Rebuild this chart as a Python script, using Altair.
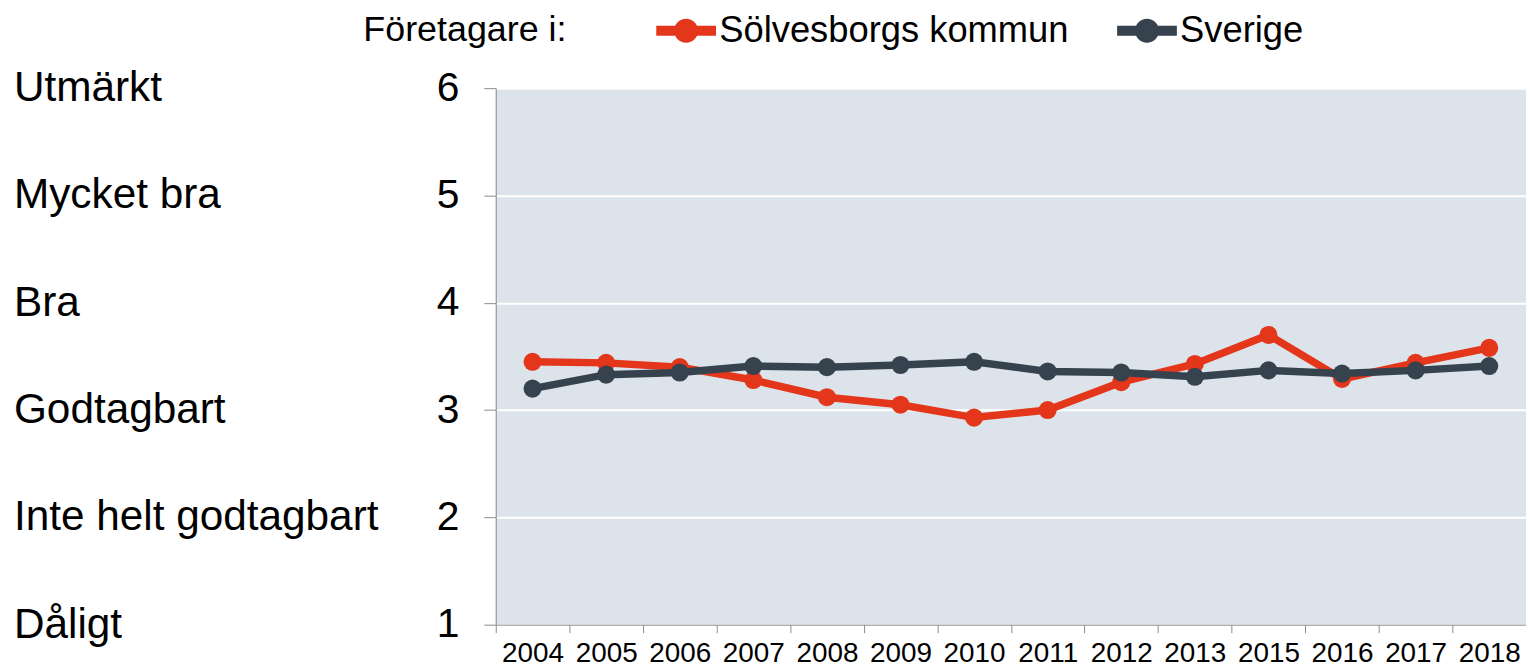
import altair as alt
import pandas as pd

years = ["2004", "2005", "2006", "2007", "2008", "2009", "2010", "2011",
         "2012", "2013", "2015", "2016", "2017", "2018"]
solvesborg = [3.45, 3.44, 3.40, 3.28, 3.12, 3.05, 2.93, 3.00, 3.26, 3.43, 3.70, 3.29, 3.44, 3.58]
sverige = [3.20, 3.33, 3.35, 3.41, 3.40, 3.42, 3.45, 3.36, 3.35, 3.31, 3.37, 3.34, 3.37, 3.41]
series_names = ["Sölvesborgs kommun", "Sverige"]
series_colors = ["#E4361B", "#36424E"]
level_values = [6, 5, 4, 3, 2, 1]
level_labels = ["Utmärkt", "Mycket bra", "Bra", "Godtagbart", "Inte helt godtagbart", "Dåligt"]

rows = []
for name, vals in zip(series_names, [solvesborg, sverige]):
    for y, v in zip(years, vals):
        rows.append({"year": y, "value": v, "serie": name})
df = pd.DataFrame(rows)
levels = pd.DataFrame({"value": level_values, "label": level_labels})

FONT = "Liberation Sans"
W, H = 1035, 539
step = W / len(years)

# symbol drawn 60px wide from a 30px legend slot (unit = 15px)
legend_path = ("M-1,-0.33L3,-0.33L3,0.33L-1,0.33Z "
               "M0.2,0A0.8,0.8 0 1,1 1.8,0A0.8,0.8 0 1,1 0.2,0Z")

color = alt.Color(
    "serie:N",
    scale=alt.Scale(domain=series_names, range=series_colors),
    legend=alt.Legend(
        title="Företagare i:", orient="none", legendX=-133, legendY=-76,
        direction="horizontal", titleOrient="left", titleLimit=600,
        titleFontSize=36, titleFontWeight="normal", titleFont=FONT, titleColor="black",
        titlePadding=86, labelFontSize=36.5, labelFont=FONT, labelColor="black",
        labelLimit=600, labelOffset=30, columnPadding=45, symbolType=legend_path,
        symbolSize=900, symbolStrokeWidth=0, symbolOpacity=1,
    ),
)

x = alt.X(
    "year:O", sort=years,
    scale=alt.Scale(type="point", padding=0.5),
    axis=alt.Axis(title=None, labelAngle=0, tickOffset=-step / 2, labelOffset=step / 2,
                  labelFontSize=28, labelFont=FONT, labelColor="black", labelPadding=7,
                  tickSize=8, tickColor="#8c8c8c", domainColor="#8c8c8c", grid=False),
)
y = alt.Y(
    "value:Q",
    scale=alt.Scale(domain=[1, 6], nice=False, zero=False),
    axis=alt.Axis(title=None, values=level_values, format="d", labelFontSize=41,
                  labelFont=FONT, labelColor="black", labelPadding=25, tickSize=12,
                  tickColor="#8c8c8c", domainColor="#8c8c8c", gridColor="white",
                  gridWidth=2),
)

layers = []
for name in series_names:
    sub = alt.Chart(df).transform_filter(alt.datum.serie == name)
    layers.append(sub.mark_line(strokeWidth=7.5).encode(x=x, y=y, color=color))
    layers.append(sub.mark_point(filled=True, size=330, opacity=1).encode(x=x, y=y, color=color))

labels = alt.Chart(levels).mark_text(
    align="left", baseline="middle", fontSize=42.5, font=FONT, color="black"
).encode(x=alt.value(-484), y=alt.Y("value:Q", scale=alt.Scale(domain=[1, 6], nice=False, zero=False)),
         text="label:N")

chart = alt.layer(*layers, labels).properties(
    width=W, height=H,
    background="white",
    autosize=alt.AutoSizeParams(type="none"),
    padding={"left": 490, "top": 79, "right": 0, "bottom": 45},
).configure_view(fill="#DCE3EA", stroke=None)

chart.save("out.html", embed_options={"renderer": "svg", "actions": False})
